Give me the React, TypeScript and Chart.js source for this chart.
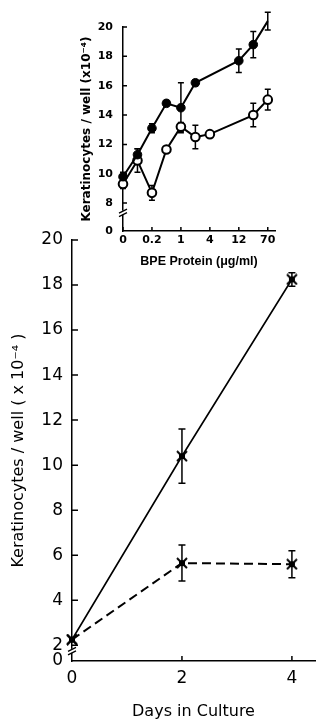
import React, { useEffect, useRef } from 'react';
import { Chart, registerables } from 'chart.js';
Chart.register(...registerables);

// ---------- main chart data ----------
const dayValues = [0, 2, 4];
const dayTickValues = [0, 2, 4];
const withBpeCells = [2.25, 10.4, 18.25];
const withBpeErr = [0, 1.2, 0.3];
const withoutBpeCells = [2.25, 5.65, 5.6];
const withoutBpeErr = [0, 0.8, 0.6];
const mainYTicks = [2, 4, 6, 8, 10, 12, 14, 16, 18, 20];
const mainYZero = 1.3; // broken-axis position labelled "0"
const mainYBreak = 1.75;

// ---------- inset data ----------
const bpeTickPositions = [0, 2, 4, 6, 8, 10];
const bpeTickLabels = ['0', '0.2', '1', '4', '12', '70'];
const filledPositions = [0, 1, 2, 3, 4, 5, 8, 9, 10];
const filledValues = [9.8, 11.3, 13.1, 14.8, 14.5, 16.2, 17.7, 18.8, 20.4];
const filledErr = [0.3, 0.4, 0.3, 0.2, 1.7, 0.2, 0.8, 0.9, 0.6];
const openPositions = [0, 1, 2, 3, 4, 5, 6, 9, 10];
const openValues = [9.3, 10.9, 8.7, 11.65, 13.2, 12.5, 12.7, 14.0, 15.05];
const openErr = [0.3, 0.8, 0.5, 0.2, 0.3, 0.8, 0.2, 0.8, 0.7];
const insetYTicks = [8, 10, 12, 14, 16, 18, 20];
const insetYZero = 6.1;
const insetYBreak = 7.35;

const DV = "'DejaVu Sans'";

function makeStar(): HTMLCanvasElement {
  const c = document.createElement('canvas');
  c.width = 12;
  c.height = 12;
  const g = c.getContext('2d')!;
  g.fillStyle = '#000';
  g.fillRect(3, 3, 6, 6);
  g.strokeStyle = '#000';
  g.lineWidth = 2;
  g.beginPath();
  g.moveTo(1, 1); g.lineTo(11, 11);
  g.moveTo(11, 1); g.lineTo(1, 11);
  g.stroke();
  return c;
}

function decorPlugin(cfg: {
  yTicks: number[]; yTickLen: number; xTicks: number[]; xTickLen: number;
  breakValue: number; capW: number; lw: number;
}) {
  return {
    id: 'decor',
    beforeDatasetsDraw(chart: any) {
      const ctx = chart.ctx;
      const ys = chart.scales.y;
      ctx.save();
      ctx.strokeStyle = '#000';
      ctx.lineWidth = cfg.lw;
      chart.data.datasets.forEach((ds: any, i: number) => {
        const meta = chart.getDatasetMeta(i);
        meta.data.forEach((el: any, j: number) => {
          const e = ds.errors ? ds.errors[j] : 0;
          if (!e) return;
          const v = ds.data[j].y;
          const yt = ys.getPixelForValue(v + e);
          const yb = ys.getPixelForValue(v - e);
          ctx.beginPath();
          ctx.moveTo(el.x, yt); ctx.lineTo(el.x, yb);
          ctx.moveTo(el.x - cfg.capW, yt); ctx.lineTo(el.x + cfg.capW, yt);
          ctx.moveTo(el.x - cfg.capW, yb); ctx.lineTo(el.x + cfg.capW, yb);
          ctx.stroke();
        });
      });
      ctx.restore();
    },
    afterDraw(chart: any) {
      const ctx = chart.ctx;
      const xs = chart.scales.x;
      const ys = chart.scales.y;
      const ca = chart.chartArea;
      ctx.save();
      ctx.strokeStyle = '#000';
      ctx.lineWidth = 1.5;
      ctx.beginPath();
      cfg.yTicks.forEach((v) => {
        const y = ys.getPixelForValue(v);
        ctx.moveTo(ca.left, y); ctx.lineTo(ca.left + cfg.yTickLen, y);
      });
      cfg.xTicks.forEach((v) => {
        const x = xs.getPixelForValue(v);
        ctx.moveTo(x, ca.bottom); ctx.lineTo(x, ca.bottom - cfg.xTickLen);
      });
      ctx.stroke();
      // axis break
      const by = ys.getPixelForValue(cfg.breakValue);
      ctx.fillStyle = '#fff';
      ctx.fillRect(ca.left - 2, by - 2, 4, 4);
      ctx.lineWidth = 1.3;
      ctx.beginPath();
      ctx.moveTo(ca.left - 4, by + 0.5); ctx.lineTo(ca.left + 4, by - 3.5);
      ctx.moveTo(ca.left - 4, by + 4); ctx.lineTo(ca.left + 4, by);
      ctx.stroke();
      ctx.restore();
    },
  };
}

export default function App() {
  const mainRef = useRef<HTMLCanvasElement>(null);
  const insetRef = useRef<HTMLCanvasElement>(null);

  useEffect(() => {
    const star = makeStar();
    const mainChart = new Chart(mainRef.current!, {
      type: 'line',
      data: {
        datasets: [
          {
            label: 'with BPE',
            data: dayValues.map((d, i) => ({ x: d, y: withBpeCells[i] })),
            errors: withBpeErr,
            borderColor: '#000',
            borderWidth: 1.8,
            pointStyle: star,
            pointRadius: 6,
            fill: false,
            clip: false,
          } as any,
          {
            label: 'without BPE',
            data: dayValues.map((d, i) => ({ x: d, y: withoutBpeCells[i] })),
            errors: withoutBpeErr,
            borderColor: '#000',
            borderWidth: 2,
            borderDash: [9, 5],
            pointStyle: star,
            pointRadius: 6,
            fill: false,
            clip: false,
          } as any,
        ],
      },
      options: {
        animation: false,
        responsive: false,
        maintainAspectRatio: false,
        layout: { padding: { top: 240, left: 0, right: 0, bottom: 0 } },
        plugins: { legend: { display: false }, tooltip: { enabled: false } },
        scales: {
          x: {
            type: 'linear',
            min: 0,
            max: 4.42,
            afterBuildTicks: (s: any) => { s.ticks = dayTickValues.map((v) => ({ value: v })); },
            afterFit: (s: any) => { s.height = 60; },
            ticks: { color: '#000', font: { family: DV, size: 17 }, padding: 7, autoSkip: false, maxRotation: 0, callback: (v: any) => String(v) },
            grid: { display: false, drawTicks: false },
            border: { display: true, color: '#000', width: 1.5 },
            title: { display: true, text: 'Days in Culture', color: '#000', font: { family: DV, size: 16 }, padding: { top: 0, bottom: 0 } },
          },
          y: {
            type: 'linear',
            min: mainYZero,
            max: 20,
            afterBuildTicks: (s: any) => { s.ticks = [mainYZero, ...mainYTicks].map((v) => ({ value: v })); },
            afterFit: (s: any) => { s.width = 72; },
            ticks: { color: '#000', font: { family: DV, size: 17 }, padding: 9, autoSkip: false, callback: (v: any) => (v === mainYZero ? '0' : String(v)) },
            grid: { display: false, drawTicks: false },
            border: { display: true, color: '#000', width: 1.5 },
            title: { display: true, text: 'Keratinocytes / well ( x 10⁻⁴ )', color: '#000', font: { family: DV, size: 16 }, padding: { top: 9, bottom: 0 } },
          },
        },
      },
      plugins: [decorPlugin({ yTicks: mainYTicks, yTickLen: 6, xTicks: [2, 4], xTickLen: 5, breakValue: mainYBreak, capW: 3.5, lw: 1.5 })],
    } as any);

    const insetChart = new Chart(insetRef.current!, {
      type: 'line',
      data: {
        datasets: [
          {
            label: 'filled',
            data: filledPositions.map((p, i) => ({ x: p, y: filledValues[i] })),
            errors: filledErr,
            borderColor: '#000',
            borderWidth: 2,
            pointStyle: 'circle',
            pointRadius: 4.3,
            pointBackgroundColor: '#000',
            pointBorderColor: '#000',
            pointBorderWidth: 1,
            fill: false,
            clip: false,
          } as any,
          {
            label: 'open',
            data: openPositions.map((p, i) => ({ x: p, y: openValues[i] })),
            errors: openErr,
            borderColor: '#000',
            borderWidth: 2,
            pointStyle: 'circle',
            pointRadius: 4.3,
            pointBackgroundColor: '#fff',
            pointBorderColor: '#000',
            pointBorderWidth: 2,
            fill: false,
            clip: false,
          } as any,
        ],
      },
      options: {
        animation: false,
        responsive: false,
        maintainAspectRatio: false,
        layout: { padding: { top: 27, left: 0, right: 48, bottom: 4 } },
        plugins: { legend: { display: false }, tooltip: { enabled: false } },
        scales: {
          x: {
            type: 'linear',
            min: 0,
            max: 10.5,
            afterBuildTicks: (s: any) => { s.ticks = bpeTickPositions.map((v) => ({ value: v })); },
            afterFit: (s: any) => { s.height = 40; },
            ticks: {
              color: '#000', font: { family: DV, size: 11, weight: 'bold' }, padding: 3, autoSkip: false, maxRotation: 0,
              callback: (v: any) => { const k = bpeTickPositions.indexOf(v); return k >= 0 ? bpeTickLabels[k] : ''; },
            },
            grid: { display: false, drawTicks: false },
            border: { display: true, color: '#000', width: 1.5 },
            title: { display: true, text: 'BPE Protein (μg/ml)', color: '#000', font: { family: "'Liberation Sans'", size: 12.5, weight: 'bold' }, padding: { top: 0, bottom: 2 } },
          },
          y: {
            type: 'linear',
            min: insetYZero,
            max: 20,
            afterBuildTicks: (s: any) => { s.ticks = [insetYZero, ...insetYTicks].map((v) => ({ value: v })); },
            afterFit: (s: any) => { s.width = 43; },
            ticks: { color: '#000', font: { family: DV, size: 11, weight: 'bold' }, padding: 10, autoSkip: false, callback: (v: any) => (v === insetYZero ? '0' : String(v)) },
            grid: { display: false, drawTicks: false },
            border: { display: true, color: '#000', width: 1.5 },
            title: { display: true, text: 'Keratinocytes / well (x10⁻⁴)', color: '#000', font: { family: DV, size: 12, weight: 'bold' }, padding: { top: 0, bottom: 0 } },
          },
        },
      },
      plugins: [decorPlugin({ yTicks: insetYTicks, yTickLen: 4, xTicks: bpeTickPositions, xTickLen: 4, breakValue: insetYBreak, capW: 3, lw: 1.5 })],
    } as any);

    return () => {
      mainChart.destroy();
      insetChart.destroy();
    };
  }, []);

  return (
    <div style={{ position: 'fixed', left: 0, top: 0, width: 323, height: 721, background: '#fff', overflow: 'hidden' }}>
      <canvas ref={mainRef} width={323} height={721} style={{ position: 'absolute', left: 0, top: 0 }} />
      <canvas ref={insetRef} width={243} height={275} style={{ position: 'absolute', left: 80, top: 0 }} />
    </div>
  );
}
